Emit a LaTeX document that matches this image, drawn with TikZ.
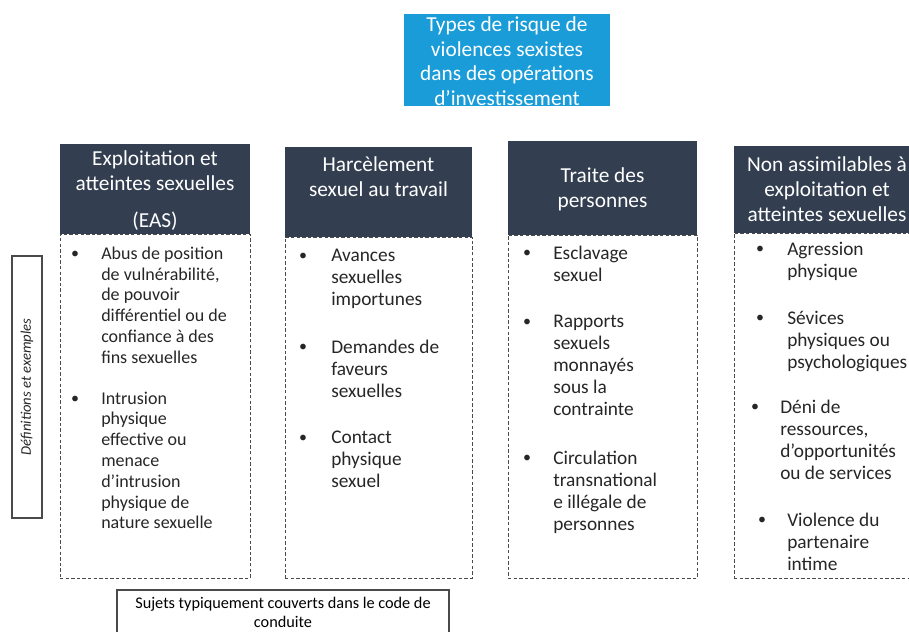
\documentclass[tikz,border=0pt]{standalone}
\usepackage{fontspec}
\setmainfont{Carlito}
\definecolor{topblue}{HTML}{1A9CD8}
\definecolor{hdrnavy}{HTML}{333F50}
\definecolor{linegray}{HTML}{4A4A4A}
\definecolor{txtgray}{HTML}{262626}
\tikzset{
  hdrbox/.style={fill=hdrnavy, draw=none, anchor=north west, inner sep=0pt, outer sep=0pt},
  hdrtext/.style={text=white, align=center, inner sep=0pt, font=\fontsize{16}{18.75}\selectfont},
  bodybox/.style={draw=linegray, line width=0.75pt, dash pattern=on 2.6pt off 1.6pt, anchor=north west, inner sep=0pt, outer sep=0pt},
  bul/.style={anchor=base, inner sep=0pt, text=txtgray, font=\fontsize{12}{15}\selectfont},
  itemA/.style={anchor=north west, align=left, inner sep=0pt, text=txtgray, font=\fontsize{13.5}{15.6}\selectfont, execute at begin node=\strut},
  itemB/.style={anchor=north west, align=left, inner sep=0pt, text=txtgray, font=\fontsize{14.5}{16.5}\selectfont, execute at begin node=\strut},
  labelbox/.style={draw=linegray, line width=0.9pt, inner sep=0pt, outer sep=0pt},
}
\begin{document}
\begin{tikzpicture}[x=0.75pt, y=-0.75pt]
\useasboundingbox (0,0) rectangle (909,631);
\clip (0,0) rectangle (909,631);

% title box
\node[fill=topblue, anchor=north west, minimum width=154.5pt, minimum height=69pt, inner sep=0pt] (title) at (404,14) {};
\node[text=white, align=center, inner sep=0pt, font=\fontsize{16}{18.4}\selectfont] (titletext) at (507,61)
  {Types de risque de\\violences sexistes\\dans des opérations\\d’investissement};

% column headers
\node[hdrbox, minimum width=142.5pt, minimum height=67.5pt] (h1) at (60,144) {};
\node[hdrbox, minimum width=140.25pt, minimum height=67.5pt] (h2) at (285,147) {};
\node[hdrbox, minimum width=141.75pt, minimum height=70.5pt] (h3) at (508,141) {};
\node[hdrbox, minimum width=141pt, minimum height=65.25pt] (h4) at (734,146) {};

% dashed bodies below the headers
\node[bodybox, minimum width=142.5pt, minimum height=258pt] (b1) at (h1.south west) {};
\node[bodybox, minimum width=140.25pt, minimum height=255.75pt] (b2) at (h2.south west) {};
\node[bodybox, minimum width=141.75pt, minimum height=257.25pt] (b3) at (h3.south west) {};
\node[bodybox, minimum width=141pt, minimum height=258.75pt] (b4) at (h4.south west) {};
\fill[hdrnavy] (h1.north west) rectangle (h1.south east);
\fill[hdrnavy] (h2.north west) rectangle (h2.south east);
\fill[hdrnavy] (h3.north west) rectangle (h3.south east);
\fill[hdrnavy] (h4.north west) rectangle (h4.south east);

\node[hdrtext] (h1t) at (155,191) {Exploitation et\\atteintes sexuelles\\[9pt](EAS)};
\node[hdrtext] (h2t) at (378.5,176.5) {Harcèlement\\sexuel au travail};
\node[hdrtext] (h3t) at (602.5,189.5) {Traite des\\personnes};
\node[hdrtext] (h4t) at (827,189.5) {Non assimilables à\\exploitation et\\atteintes sexuelles};

% column 1 items
\node[bul] (c1b1) at (75,258) {•};
\node[itemA] (c1i1) at (101,246.5) {Abus de position\\de vulnérabilité,\\de pouvoir\\différentiel ou de\\confiance à des\\fins sexuelles};
\node[bul] (c1b2) at (75,403) {•};
\node[itemA] (c1i2) at (101,391.5) {Intrusion\\physique\\effective ou\\menace\\d’intrusion\\physique de\\nature sexuelle};

% column 2 items
\node[bul] (c2b1) at (303,260) {•};
\node[itemB] (c2i1) at (331,249) {Avances\\sexuelles\\importunes};
\node[bul] (c2b2) at (303,351) {•};
\node[itemB] (c2i2) at (331,340) {Demandes de\\faveurs\\sexuelles};
\node[bul] (c2b3) at (303,442) {•};
\node[itemB] (c2i3) at (331,431) {Contact\\physique\\sexuel};

% column 3 items
\node[bul] (c3b1) at (527,257) {•};
\node[itemB] (c3i1) at (553,246) {Esclavage\\sexuel};
\node[bul] (c3b2) at (527,326) {•};
\node[itemB] (c3i2) at (553,315) {Rapports\\sexuels\\monnayés\\sous la\\contrainte};
\node[bul] (c3b3) at (527,462) {•};
\node[itemB] (c3i3) at (553,451) {Circulation\\transnational\\e illégale de\\personnes};

% column 4 items
\node[bul] (c4b1) at (760,253) {•};
\node[itemB] (c4i1) at (787,242) {Agression\\physique};
\node[bul] (c4b2) at (760,322) {•};
\node[itemB] (c4i2) at (787,311) {Sévices\\physiques ou\\psychologiques};
\node[bul] (c4b3) at (755,411) {•};
\node[itemB] (c4i3) at (780,400) {Déni de\\ressources,\\d’opportunités\\ou de services};
\node[bul] (c4b4) at (762,524) {•};
\node[itemB] (c4i4) at (787,513) {Violence du\\partenaire\\intime};

% side label
\node[labelbox, minimum width=22.5pt, minimum height=196.5pt] (side) at (27,387) {};
\node[rotate=90, inner sep=0pt, text=txtgray, font=\fontsize{11}{13}\selectfont\itshape] (sidetext) at (side.center) {Définitions et exemples};

% bottom label
\node[labelbox, anchor=north west, minimum width=249pt, minimum height=45pt] (code) at (117,590) {};
\node[align=center, inner sep=0pt, text=black, font=\fontsize{12.2}{14.25}\selectfont] (codetext) at (283,612.5) {Sujets typiquement couverts dans le code de\\conduite};
\end{tikzpicture}
\end{document}
